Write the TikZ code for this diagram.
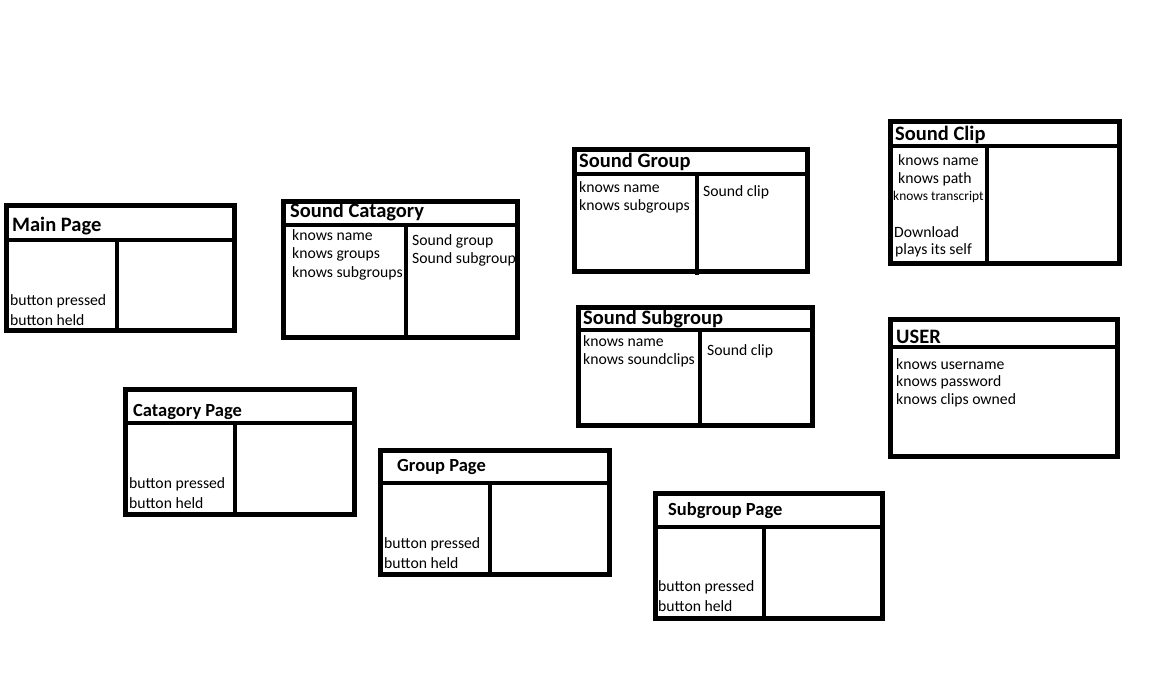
\documentclass[tikz,border=0pt]{standalone}
\usepackage{fontspec}
\setmainfont{Carlito}
\usetikzlibrary{positioning}

\begin{document}
\begin{tikzpicture}[x=1pt, y=-1pt,
    frame/.style={draw, line width=5pt},
    split/.style={draw, line width=3.5pt},
    title/.style={anchor=west, inner sep=0pt, yshift=-1.5pt, font=\fontsize{20.5}{24}\selectfont\bfseries},
    pagetitle/.style={title, font=\fontsize{18.5}{22}\selectfont\bfseries},
    field/.style={anchor=west, inner sep=0pt, yshift=-1.5pt, font=\fontsize{15.7}{19}\selectfont},
    smallfield/.style={field, font=\fontsize{13.4}{16}\selectfont}]
    \useasboundingbox (0,0) rectangle (1154,676);

    % main page
    \draw[frame] (6,206) rectangle (234,331);
    \draw[split] (6,240) -- (234,240) (117,240) -- (117,331);
    \node[title] (main) at (12,225) {Main Page};
    \node[field] (mainpress) at (10,300) {button pressed};
    \node[field] (mainheld) at (10,319) {button held};

    % sound catagory
    \draw[frame] (283,202) rectangle (517,338);
    \draw[split] (283,225) -- (517,225) (406,225) -- (406,338);
    \node[title] (cat) at (290,211) {Sound Catagory};
    \node[field] (catname) at (292,234) {knows name};
    \node[field] (catgroups) at (292,253) {knows groups};
    \node[field] (catsub) at (292,272) {knows subgroups};
    \node[field] (catgroup) at (412,240) {Sound group};
    \node[field] (catsubgroup) at (412,258) {Sound subgroup};

    % sound group
    \draw[frame] (574,150) rectangle (807,272);
    \draw[split] (574,174) -- (807,174) (697,174) -- (697,275);
    \node[title] (group) at (579,160) {Sound Group};
    \node[field] (groupname) at (579,186) {knows name};
    \node[field] (groupsub) at (579,205) {knows subgroups};
    \node[field] (groupclip) at (703,191) {Sound clip};

    % sound clip
    \draw[frame] (890,122) rectangle (1119,264);
    \draw[split] (890,146) -- (1119,146) (987,146) -- (987,264);
    \node[title] (clip) at (895,133) {Sound Clip};
    \node[field] (clipname) at (898,159) {knows name};
    \node[field] (clippath) at (898,178) {knows path};
    \node[smallfield] (cliptext) at (893,195) {knows transcript};
    \node[field] (clipload) at (894,231) {Download};
    \node[field] (clipplay) at (895,249) {plays its self};

    % sound subgroup
    \draw[frame] (578,308) rectangle (812,425);
    \draw[split] (578,330) -- (812,330) (700,330) -- (700,425);
    \node[title] (sub) at (583,318) {Sound Subgroup};
    \node[field] (subname) at (583,340) {knows name};
    \node[field] (subclips) at (583,359) {knows soundclips};
    \node[field] (subclip) at (707,350) {Sound clip};

    % user
    \draw[frame] (890,320) rectangle (1117,456);
    \draw[split] (890,347) -- (1117,347);
    \node[title] (user) at (896,335) {USER};
    \node[field] (username) at (896,363) {knows username};
    \node[field] (userpass) at (896,381) {knows password};
    \node[field] (userclips) at (896,399) {knows clips owned};

    % catagory page
    \draw[frame] (125,389) rectangle (354,514);
    \draw[split] (125,423) -- (354,423) (235,423) -- (235,514);
    \node[pagetitle] (catpage) at (133,411) {Catagory Page};
    \node[field] (catpress) at (129,483) {button pressed};
    \node[field] (catheld) at (129,502) {button held};

    % group page
    \draw[frame] (380,450) rectangle (609,574);
    \draw[split] (380,483) -- (609,483) (490,483) -- (490,574);
    \node[pagetitle] (grouppage) at (397,465) {Group Page};
    \node[field] (grouppress) at (384,543) {button pressed};
    \node[field] (groupheld) at (384,562) {button held};

    % subgroup page
    \draw[frame] (655,493) rectangle (882,618);
    \draw[split] (655,527) -- (882,527) (764,527) -- (764,618);
    \node[pagetitle] (subpage) at (668,509) {Subgroup Page};
    \node[field] (subpress) at (658,586) {button pressed};
    \node[field] (subheld) at (658,605) {button held};
\end{tikzpicture}
\end{document}
